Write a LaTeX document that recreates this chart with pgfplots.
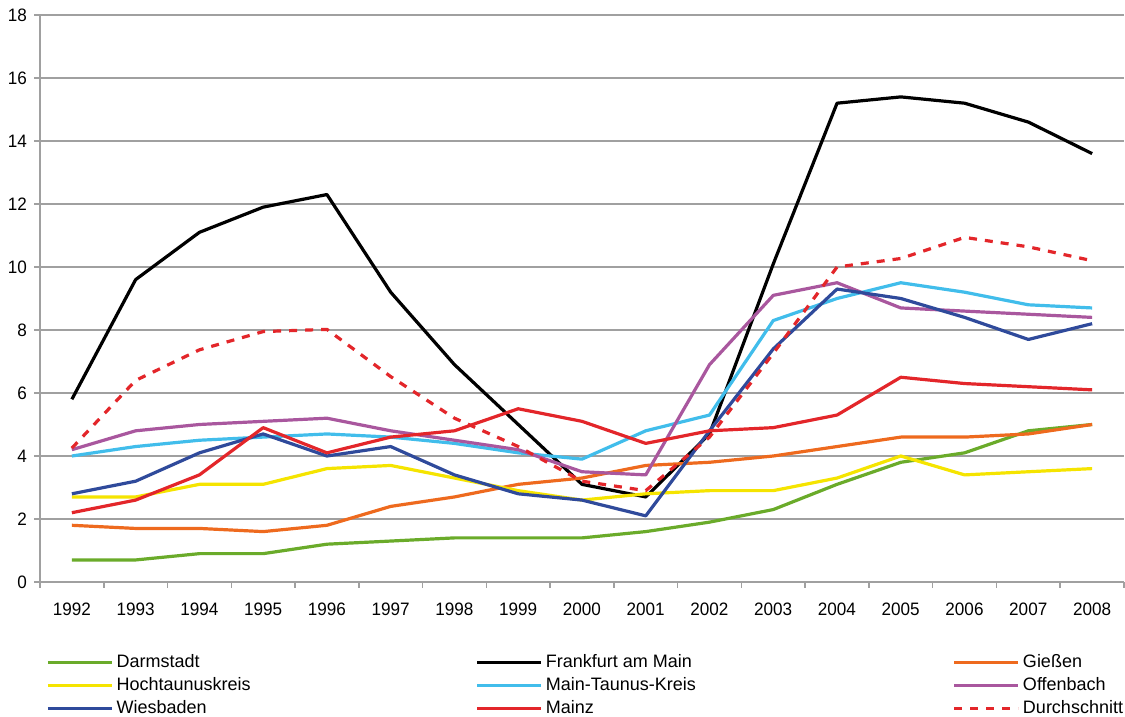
\documentclass[border=0pt]{standalone}
\usepackage{fontspec}
\setmainfont{Liberation Sans}
\newfontfamily\tickfont{Liberation Sans}[FakeStretch=0.95]
\usepackage{pgfplots}
\pgfplotsset{compat=1.18}
\definecolor{cDarm}{HTML}{6AAB2A}
\definecolor{cGies}{HTML}{EE6A1E}
\definecolor{cHoch}{HTML}{F5E400}
\definecolor{cMTK}{HTML}{41BDEB}
\definecolor{cOff}{HTML}{A9579E}
\definecolor{cWies}{HTML}{2F4A9B}
\definecolor{cMainz}{HTML}{E3262A}
\definecolor{gridgray}{HTML}{A0A0A0}
\begin{document}
\begin{tikzpicture}
\useasboundingbox (-20pt,-67.5pt) rectangle (542.5pt,291pt);
\begin{axis}[
  scale only axis, width=542pt, height=283.5pt,
  at={(0,0)}, anchor=south west,
  xmin=1991.5, xmax=2008.5, ymin=0, ymax=18,
  xtick={1992,...,2008},
  minor xtick={1991.5,1992.5,...,2008.5},
  ytick={0,2,...,18},
  ymajorgrids,
  grid style={color=gridgray, line width=0.75pt},
  axis x line=bottom, axis y line=left,
  axis line style={-, color=gridgray, line width=0.75pt},
  tick align=outside,
  major x tick style={draw=none},
  minor x tick style={color=gridgray, line width=0.75pt},
  y tick style={color=gridgray, line width=0.75pt},
  major tick length=3pt, minor tick length=3pt,
  /pgf/number format/assume math mode=true,
  x tick label style={/pgf/number format/1000 sep={}, font=\tickfont\fontsize{9}{10}\selectfont, yshift=-4pt},
  y tick label style={font=\tickfont\fontsize{9}{10}\selectfont},
  every axis plot/.append style={line width=1.6pt, line join=round},
  legend columns=3,
  legend cell align=left,
  legend image code/.code={\draw[#1] (0pt,0pt) -- (32pt,0pt);},
  legend style={draw=none, fill=none, at={(0,0)}, anchor=north west,
    xshift=0pt, yshift=-33pt, font=\fontsize{9}{10}\selectfont,
    row sep=1.5pt, column sep=0pt,
    nodes={inner xsep=1.5pt, inner ysep=1pt}},
]
\addplot[cDarm] coordinates {(1992,0.7)(1993,0.7)(1994,0.9)(1995,0.9)(1996,1.2)(1997,1.3)(1998,1.4)(1999,1.4)(2000,1.4)(2001,1.6)(2002,1.9)(2003,2.3)(2004,3.1)(2005,3.8)(2006,4.1)(2007,4.8)(2008,5.0)};
\addlegendentry{\makebox[178pt][l]{Darmstadt}}
\addplot[black] coordinates {(1992,5.8)(1993,9.6)(1994,11.1)(1995,11.9)(1996,12.3)(1997,9.2)(1998,6.9)(1999,5.0)(2000,3.1)(2001,2.7)(2002,4.7)(2003,10.1)(2004,15.2)(2005,15.4)(2006,15.2)(2007,14.6)(2008,13.6)};
\addlegendentry{\makebox[202pt][l]{Frankfurt am Main}}
\addplot[cGies] coordinates {(1992,1.8)(1993,1.7)(1994,1.7)(1995,1.6)(1996,1.8)(1997,2.4)(1998,2.7)(1999,3.1)(2000,3.3)(2001,3.7)(2002,3.8)(2003,4.0)(2004,4.3)(2005,4.6)(2006,4.6)(2007,4.7)(2008,5.0)};
\addlegendentry{Gießen}
\addplot[cHoch] coordinates {(1992,2.7)(1993,2.7)(1994,3.1)(1995,3.1)(1996,3.6)(1997,3.7)(1998,3.3)(1999,2.9)(2000,2.6)(2001,2.8)(2002,2.9)(2003,2.9)(2004,3.3)(2005,4.0)(2006,3.4)(2007,3.5)(2008,3.6)};
\addlegendentry{\makebox[178pt][l]{Hochtaunuskreis}}
\addplot[cMTK] coordinates {(1992,4.0)(1993,4.3)(1994,4.5)(1995,4.6)(1996,4.7)(1997,4.6)(1998,4.4)(1999,4.1)(2000,3.9)(2001,4.8)(2002,5.3)(2003,8.3)(2004,9.0)(2005,9.5)(2006,9.2)(2007,8.8)(2008,8.7)};
\addlegendentry{\makebox[202pt][l]{Main-Taunus-Kreis}}
\addplot[cOff] coordinates {(1992,4.2)(1993,4.8)(1994,5.0)(1995,5.1)(1996,5.2)(1997,4.8)(1998,4.5)(1999,4.2)(2000,3.5)(2001,3.4)(2002,6.9)(2003,9.1)(2004,9.5)(2005,8.7)(2006,8.6)(2007,8.5)(2008,8.4)};
\addlegendentry{Offenbach}
\addplot[cWies] coordinates {(1992,2.8)(1993,3.2)(1994,4.1)(1995,4.7)(1996,4.0)(1997,4.3)(1998,3.4)(1999,2.8)(2000,2.6)(2001,2.1)(2002,4.8)(2003,7.4)(2004,9.3)(2005,9.0)(2006,8.4)(2007,7.7)(2008,8.2)};
\addlegendentry{\makebox[178pt][l]{Wiesbaden}}
\addplot[cMainz] coordinates {(1992,2.2)(1993,2.6)(1994,3.4)(1995,4.9)(1996,4.1)(1997,4.6)(1998,4.8)(1999,5.5)(2000,5.1)(2001,4.4)(2002,4.8)(2003,4.9)(2004,5.3)(2005,6.5)(2006,6.3)(2007,6.2)(2008,6.1)};
\addlegendentry{\makebox[202pt][l]{Mainz}}
\addplot[cMainz, dash pattern=on 4pt off 4pt] coordinates {(1992,4.25)(1993,6.4)(1994,7.37)(1995,7.95)(1996,8.02)(1997,6.52)(1998,5.2)(1999,4.3)(2000,3.2)(2001,2.9)(2002,4.6)(2003,7.26)(2004,10.0)(2005,10.27)(2006,10.94)(2007,10.64)(2008,10.2)};
\addlegendentry{Durchschnitt}
\end{axis}
\end{tikzpicture}
\end{document}
